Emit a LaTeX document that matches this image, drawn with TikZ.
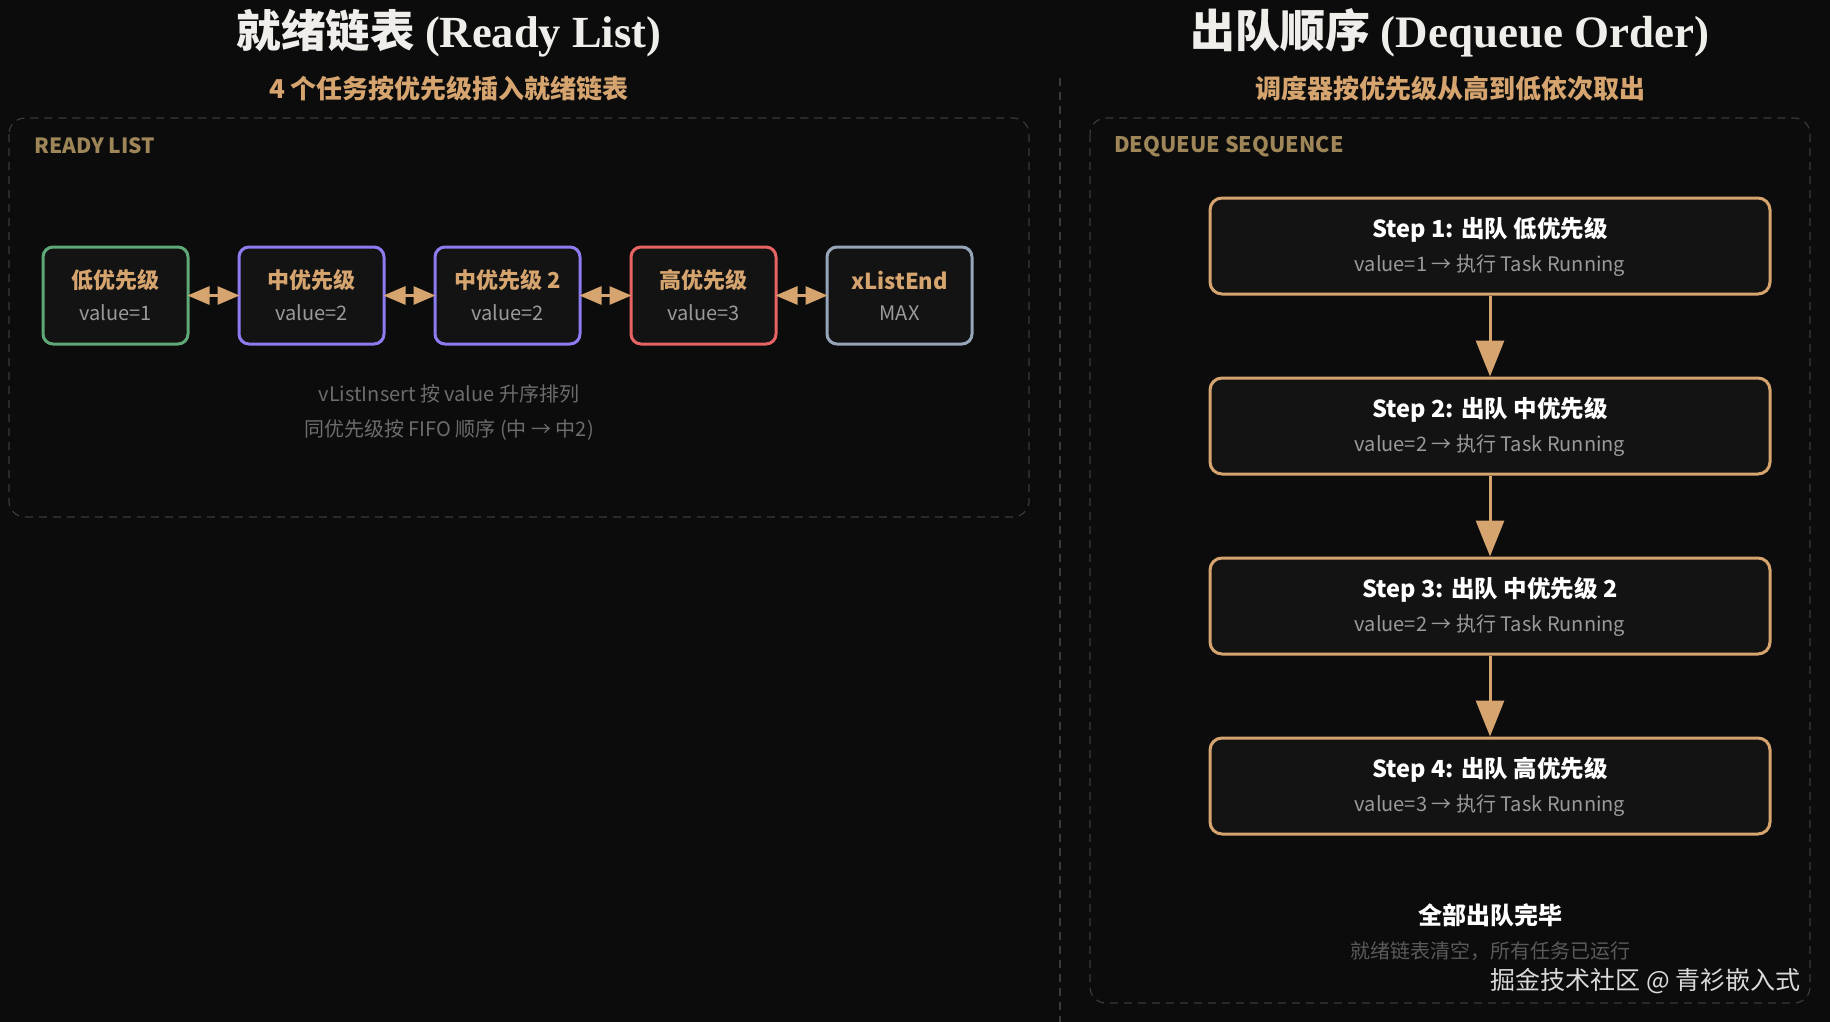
\documentclass[tikz,border=0pt]{standalone}
\usepackage{fontspec}
\setmainfont{Noto Sans CJK SC}
\newfontfamily\seriffont{Liberation Serif}
\usetikzlibrary{arrows.meta}
\definecolor{bg}{HTML}{0C0C0C}
\definecolor{boxfill}{HTML}{131313}
\definecolor{accent}{HTML}{D6A46E}
\definecolor{labelgold}{HTML}{9E8658}
\definecolor{muted}{HTML}{9A9A9A}
\definecolor{dim}{HTML}{6C6C6C}
\definecolor{dimmer}{HTML}{5A5A5A}
\definecolor{panelline}{HTML}{3A3A3A}
\definecolor{cgreen}{HTML}{5FA878}
\definecolor{cpurple}{HTML}{8C7CF0}
\definecolor{cred}{HTML}{E86464}
\definecolor{cslate}{HTML}{97A5B8}
\definecolor{titlewhite}{HTML}{F0EEEA}
\tikzset{
  panel/.style={draw=panelline, line width=1.2pt, dash pattern=on 8pt off 6pt, rounded corners=16pt},
  listbox/.style={draw=#1, fill=boxfill, line width=3pt, rounded corners=10pt, minimum width=145pt, minimum height=97pt, inner sep=0pt},
  stepbox/.style={draw=accent, fill=boxfill, line width=3pt, rounded corners=12pt, minimum width=560pt, minimum height=96pt, inner sep=0pt},
  boxtitle/.style={font=\fontsize{22}{26}\selectfont\bfseries, text=accent, inner sep=0pt},
  boxvalue/.style={font=\fontsize{20}{24}\selectfont, text=muted, inner sep=0pt},
  steptitle/.style={font=\fontsize{23.5}{28}\selectfont\bfseries, text=white, inner sep=0pt},
  stepsub/.style={font=\fontsize{20}{24}\selectfont, text=muted, inner sep=0pt},
  link/.style={draw=accent, line width=3pt, {Triangle[length=22pt,width=18pt]}-{Triangle[length=22pt,width=18pt]}, shorten <=-2pt, shorten >=-2pt},
  flow/.style={draw=accent, line width=3pt, -{Triangle[length=36pt,width=28pt]}},
}
\begin{document}
\begin{tikzpicture}[x=1pt,y=-1pt]
\fill[bg] (0,0) rectangle (1830,1022);
\useasboundingbox (0,0) rectangle (1830,1022);

% separator
\draw[panelline, line width=1.2pt, dash pattern=on 8pt off 6pt] (1060,78) -- (1060,1022);

% titles
\node[text=titlewhite, inner sep=0pt] (t1) at (449,33) {\fontsize{44.5}{48}\selectfont\bfseries 就绪链表 {\seriffont(Ready List)}};
\node[text=accent, inner sep=0pt] (s1) at (449,89) {\fontsize{26}{30}\selectfont\bfseries 4 个任务按优先级插入就绪链表};
\node[text=titlewhite, inner sep=0pt] (t2) at (1450,33) {\fontsize{45}{49}\selectfont\bfseries 出队顺序 {\seriffont(Dequeue Order)}};
\node[text=accent, inner sep=0pt] (s2) at (1450,89) {\fontsize{26}{30}\selectfont\bfseries 调度器按优先级从高到低依次取出};

% panels
\draw[panel] (9,118) rectangle (1029,517);
\draw[panel] (1090,118) rectangle (1810,1003);
\node[anchor=west, text=labelgold, inner sep=0pt] (p1) at (34,146) {\fontsize{21}{24}\selectfont\bfseries READY LIST};
\node[anchor=west, text=labelgold, inner sep=0pt] (p2) at (1114,147) {\fontsize{21.5}{24}\selectfont\bfseries DEQUEUE SEQUENCE};

% list boxes
\node[listbox=cgreen] (b1) at (115.5,295.5) {};
\node[listbox=cpurple] (b2) at (311.5,295.5) {};
\node[listbox=cpurple] (b3) at (507.5,295.5) {};
\node[listbox=cred] (b4) at (703.5,295.5) {};
\node[listbox=cslate] (b5) at (899.5,295.5) {};

\node[boxtitle] (b1t) at ([yshift=15pt]b1.center) {低优先级};
\node[boxvalue] (b1v) at ([yshift=-17.5pt]b1.center) {value=1};
\node[boxtitle] (b2t) at ([yshift=15pt]b2.center) {中优先级};
\node[boxvalue] (b2v) at ([yshift=-17.5pt]b2.center) {value=2};
\node[boxtitle] (b3t) at ([yshift=15pt]b3.center) {中优先级 2};
\node[boxvalue] (b3v) at ([yshift=-17.5pt]b3.center) {value=2};
\node[boxtitle] (b4t) at ([yshift=15pt]b4.center) {高优先级};
\node[boxvalue] (b4v) at ([yshift=-17.5pt]b4.center) {value=3};
\node[boxtitle] (b5t) at ([yshift=15pt]b5.center) {xListEnd};
\node[boxvalue] (b5v) at ([yshift=-17.5pt]b5.center) {MAX};

\draw[link] (b1.east) -- (b2.west);
\draw[link] (b2.east) -- (b3.west);
\draw[link] (b3.east) -- (b4.west);
\draw[link] (b4.east) -- (b5.west);

\node[text=dim, inner sep=0pt] (n1) at (449,393.5) {\fontsize{20}{24}\selectfont vListInsert 按 value 升序排列};
\node[text=dim, inner sep=0pt] (n2) at (449,430) {\fontsize{20}{24}\selectfont 同优先级按 FIFO 顺序 (中 → 中2)};

% steps
\node[stepbox] (st1) at (1490,246) {};
\node[stepbox] (st2) at (1490,426) {};
\node[stepbox] (st3) at (1490,606) {};
\node[stepbox] (st4) at (1490,786) {};

\node[steptitle] (st1t) at ([yshift=16pt]st1.center) {Step 1: 出队 低优先级};
\node[stepsub] (st1s) at ([yshift=-20pt]st1.center) {value=1 → 执行 Task Running};
\node[steptitle] (st2t) at ([yshift=16pt]st2.center) {Step 2: 出队 中优先级};
\node[stepsub] (st2s) at ([yshift=-20pt]st2.center) {value=2 → 执行 Task Running};
\node[steptitle] (st3t) at ([yshift=16pt]st3.center) {Step 3: 出队 中优先级 2};
\node[stepsub] (st3s) at ([yshift=-20pt]st3.center) {value=2 → 执行 Task Running};
\node[steptitle] (st4t) at ([yshift=16pt]st4.center) {Step 4: 出队 高优先级};
\node[stepsub] (st4s) at ([yshift=-20pt]st4.center) {value=3 → 执行 Task Running};

\draw[flow] (st1.south) -- (st2.north);
\draw[flow] (st2.south) -- (st3.north);
\draw[flow] (st3.south) -- (st4.north);

\node[text=white, inner sep=0pt] (done) at (1490,915) {\fontsize{24}{28}\selectfont\bfseries 全部出队完毕};
\node[text=dimmer, inner sep=0pt] (dones) at (1490,951) {\fontsize{20}{24}\selectfont 就绪链表清空，所有任务已运行};

% watermark
\node[anchor=east, text=white!85!black, inner sep=0pt] (wm) at (1801,981) {\fontsize{25}{29}\selectfont 掘金技术社区 @ 青衫嵌入式};
\end{tikzpicture}
\end{document}
